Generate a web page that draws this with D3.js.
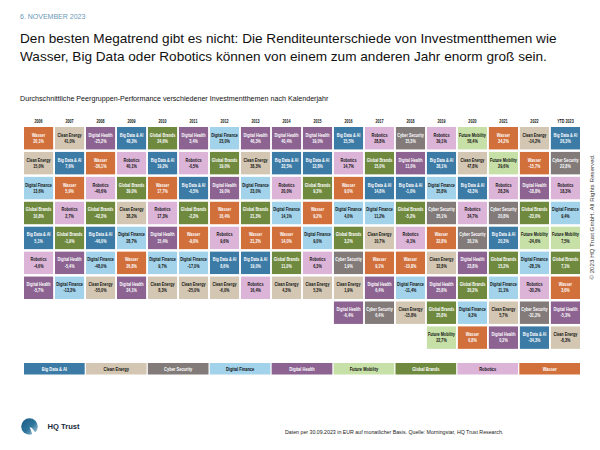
<!DOCTYPE html>
<html>
<head>
<meta charset="utf-8">
<script src="https://cdn.jsdelivr.net/npm/d3@7/dist/d3.min.js"></script>
<style>
  html, body { margin: 0; padding: 0; background: #fff; }
  svg { display: block; }
  .cellt { font-family: "Liberation Sans", Arial, sans-serif; font-weight: bold; }
</style>
</head>
<body>
<svg id="chart" width="600" height="450"></svg>
<script>
const themes = ["Big Data & AI", "Clean Energy", "Cyber Security", "Digital Finance", "Digital Health", "Future Mobility", "Global Brands", "Robotics", "Wasser"];
const themeColors = ["#3b7ba6", "#d3c7b3", "#827b7a", "#a2d3ea", "#8c6391", "#c6e0a8", "#6f8a3e", "#dbb4d8", "#d1703b"];
const darkText = ["Big Data & AI", "Cyber Security", "Digital Health", "Global Brands", "Wasser"];
const years = ["2006","2007","2008","2009","2010","2011","2012","2013","2014","2015","2016","2017","2018","2019","2020","2021","2022","YTD 2023"];

const r2006 = [["Wasser",20.1],["Clean Energy",15.0],["Digital Finance",13.6],["Global Brands",10.8],["Big Data & AI",5.1],["Robotics",-4.6],["Digital Health",-5.7]];
const r2007 = [["Clean Energy",41.0],["Big Data & AI",7.6],["Wasser",5.9],["Robotics",2.7],["Global Brands",-1.9],["Digital Health",-5.4],["Digital Finance",-13.3]];
const r2008 = [["Digital Health",-25.2],["Wasser",-36.1],["Robotics",-40.6],["Global Brands",-42.3],["Big Data & AI",-46.0],["Digital Finance",-48.0],["Clean Energy",-55.0]];
const r2009 = [["Big Data & AI",48.3],["Robotics",40.1],["Global Brands",39.0],["Clean Energy",38.2],["Digital Finance",28.7],["Wasser",26.8],["Digital Health",24.1]];
const r2010 = [["Global Brands",24.6],["Big Data & AI",19.2],["Wasser",17.7],["Robotics",17.3],["Digital Health",15.4],["Digital Finance",9.7],["Clean Energy",8.3]];
const r2011 = [["Digital Health",3.4],["Robotics",-0.5],["Big Data & AI",-0.5],["Global Brands",-2.2],["Wasser",-9.0],["Digital Finance",-17.0],["Clean Energy",-25.0]];
const r2012 = [["Digital Finance",23.0],["Global Brands",19.0],["Digital Health",19.0],["Wasser",16.4],["Robotics",9.6],["Big Data & AI",8.6],["Clean Energy",-6.0]];
const r2013 = [["Digital Health",46.3],["Clean Energy",38.3],["Digital Finance",23.0],["Global Brands",21.3],["Wasser",21.2],["Big Data & AI",19.0],["Robotics",16.4]];
const r2014 = [["Digital Health",40.4],["Big Data & AI",22.5],["Robotics",20.0],["Digital Finance",14.1],["Wasser",14.0],["Global Brands",11.0],["Clean Energy",4.3]];
const r2015 = [["Digital Health",19.0],["Big Data & AI",12.8],["Global Brands",9.3],["Wasser",9.2],["Digital Finance",9.0],["Robotics",6.3],["Clean Energy",5.3]];
const r2016 = [["Big Data & AI",15.5],["Robotics",14.7],["Wasser",9.0],["Digital Finance",4.0],["Global Brands",3.2],["Cyber Security",1.9],["Clean Energy",1.9],["Digital Health",-6.4]];
const r2017 = [["Robotics",28.8],["Global Brands",15.0],["Big Data & AI",14.8],["Digital Finance",11.2],["Clean Energy",10.7],["Wasser",9.1],["Digital Health",6.4],["Cyber Security",6.4]];
const r2018 = [["Cyber Security",15.3],["Digital Health",11.0],["Big Data & AI",-1.0],["Global Brands",-5.2],["Robotics",-9.1],["Wasser",-10.8],["Digital Finance",-11.4],["Clean Energy",-15.8]];
const r2019 = [["Robotics",39.1],["Big Data & AI",38.1],["Digital Finance",35.8],["Cyber Security",35.1],["Wasser",32.8],["Clean Energy",32.8],["Digital Health",25.8],["Global Brands",25.8],["Future Mobility",22.7]];
const r2020 = [["Future Mobility",58.4],["Clean Energy",47.8],["Big Data & AI",43.3],["Robotics",34.7],["Cyber Security",30.1],["Digital Health",23.8],["Global Brands",20.2],["Digital Finance",9.3],["Wasser",6.8]];
const r2021 = [["Wasser",34.2],["Future Mobility",29.6],["Robotics",28.3],["Cyber Security",20.8],["Big Data & AI",20.3],["Global Brands",15.2],["Digital Finance",11.1],["Clean Energy",5.7],["Digital Health",0.2]];
const r2022 = [["Clean Energy",-14.2],["Wasser",-15.7],["Digital Health",-18.8],["Global Brands",-23.0],["Future Mobility",-24.6],["Digital Finance",-28.1],["Robotics",-30.2],["Cyber Security",-31.2],["Big Data & AI",-34.3]];
const rYTD = [["Big Data & AI",26.3],["Cyber Security",22.8],["Robotics",18.3],["Digital Finance",9.4],["Future Mobility",7.5],["Global Brands",7.1],["Wasser",3.6],["Digital Health",-5.3],["Clean Energy",-8.3]];
const rankings = [r2006,r2007,r2008,r2009,r2010,r2011,r2012,r2013,r2014,r2015,r2016,r2017,r2018,r2019,r2020,r2021,r2022,rYTD];

const svg = d3.select("#chart");
const color = d3.scaleOrdinal().domain(themes).range(themeColors);
const fmt = v => d3.format(".1f")(v).replace("−", "-").replace(".", ",") + "%";

// Header
svg.append("text").attr("x", 20).attr("y", 19).attr("font-family", "Liberation Sans, Arial, sans-serif")
  .attr("font-size", 7).attr("fill", "#6a98b5").text("6. NOVEMBER 2023");
const title = svg.append("text").attr("font-family", "Liberation Sans, Arial, sans-serif").attr("font-size", 13.6).attr("fill", "#111");
title.append("tspan").attr("x", 20).attr("y", 42.5).text("Den besten Megatrend gibt es nicht: Die Renditeunterschiede von Investmentthemen wie");
title.append("tspan").attr("x", 20).attr("y", 61).text("Wasser, Big Data oder Robotics können von einem zum anderen Jahr enorm groß sein.");
svg.append("text").attr("x", 20).attr("y", 101).attr("font-family", "Liberation Sans, Arial, sans-serif")
  .attr("font-size", 7.15).attr("fill", "#111").text("Durchschnittliche Peergruppen-Performance verschiedener Investmentthemen nach Kalenderjahr");

// Grid
const x = d3.scaleBand().domain(years).range([24, 580]).paddingInner(0.06);
const y = d3.scaleBand().domain(d3.range(9)).range([127, 127 + 9 * 24.65]).paddingInner(0.1);
const sx = 0.8; // horizontal condensing of cell labels

function condensed(sel, cx, cy) {
  return sel.attr("transform", `translate(${cx},${cy}) scale(${sx},1)`).attr("x", 0).attr("y", 0);
}

svg.append("g").selectAll("text").data(years).join("text")
  .attr("class", "cellt")
  .each(function(d) { condensed(d3.select(this), x(d) + x.bandwidth() / 2, 122.5); })
  .attr("text-anchor", "middle").attr("font-size", 4.6).attr("fill", "#111").text(d => d);

const cells = [];
rankings.forEach((arr, i) => arr.forEach((d, j) => cells.push({ year: years[i], rank: j, theme: d[0], value: d[1] })));

const g = svg.append("g").selectAll("g").data(cells).join("g")
  .attr("transform", d => `translate(${x(d.year)},${y(d.rank)})`);
g.append("rect").attr("width", x.bandwidth()).attr("height", y.bandwidth()).attr("fill", d => color(d.theme));
g.append("text").attr("class", "cellt")
  .each(function() { condensed(d3.select(this), x.bandwidth() / 2, y.bandwidth() * 0.43); })
  .attr("text-anchor", "middle").attr("font-size", 4.7)
  .attr("fill", d => darkText.includes(d.theme) ? "#fff" : "#111").text(d => d.theme);
g.append("text").attr("class", "cellt")
  .each(function() { condensed(d3.select(this), x.bandwidth() / 2, y.bandwidth() * 0.71); })
  .attr("text-anchor", "middle").attr("font-size", 4.7)
  .attr("fill", d => darkText.includes(d.theme) ? "#fff" : "#111").text(d => fmt(d.value));

// Legend
const lx = d3.scaleBand().domain(themes).range([24, 580]).paddingInner(0.02);
const lg = svg.append("g").selectAll("g").data(themes).join("g")
  .attr("transform", d => `translate(${lx(d)},363)`);
lg.append("rect").attr("width", lx.bandwidth()).attr("height", 11.5).attr("fill", d => color(d));
lg.append("text").attr("class", "cellt")
  .each(function() { condensed(d3.select(this), lx.bandwidth() / 2, 7.6); })
  .attr("text-anchor", "middle").attr("font-size", 5)
  .attr("fill", d => darkText.includes(d) ? "#fff" : "#111").text(d => d);

// Copyright vertical
svg.append("text").attr("transform", "translate(594,217) rotate(-90)")
  .attr("text-anchor", "middle").attr("font-family", "Liberation Sans, Arial, sans-serif")
  .attr("font-size", 6.2).attr("fill", "#333").text("© 2023 HQ Trust GmbH. All Rights Reserved.");

// Footer
svg.append("text").attr("x", 285).attr("y", 434).attr("font-family", "Liberation Sans, Arial, sans-serif")
  .attr("font-size", 5.25).attr("fill", "#222")
  .text("Daten per 30.09.2023 in EUR auf monatlicher Basis. Quelle: Morningstar, HQ Trust Research.");

// Logo
const defs = svg.append("defs");
const grad = defs.append("linearGradient").attr("id", "lg").attr("x1", "0").attr("y1", "0").attr("x2", "1").attr("y2", "1");
grad.append("stop").attr("offset", "0%").attr("stop-color", "#1b5b82");
grad.append("stop").attr("offset", "55%").attr("stop-color", "#2f769c");
grad.append("stop").attr("offset", "100%").attr("stop-color", "#bcd5e0");
svg.append("circle").attr("cx", 29.5).attr("cy", 426.5).attr("r", 8.3).attr("fill", "url(#lg)");
svg.append("path").attr("d", "M29.5,426.5 L36,433 L33,436.5 Z").attr("fill", "#fff");
svg.append("path").attr("d", "M31,428 Q34,431 35.5,437").attr("stroke", "#fff").attr("stroke-width", 1.4).attr("fill", "none");
svg.append("text").attr("x", 47.5).attr("y", 429).attr("font-family", "Liberation Sans, Arial, sans-serif")
  .attr("font-weight", "bold").attr("font-size", 7.6).attr("fill", "#1a2a3a").text("HQ Trust");
</script>
</body>
</html>
